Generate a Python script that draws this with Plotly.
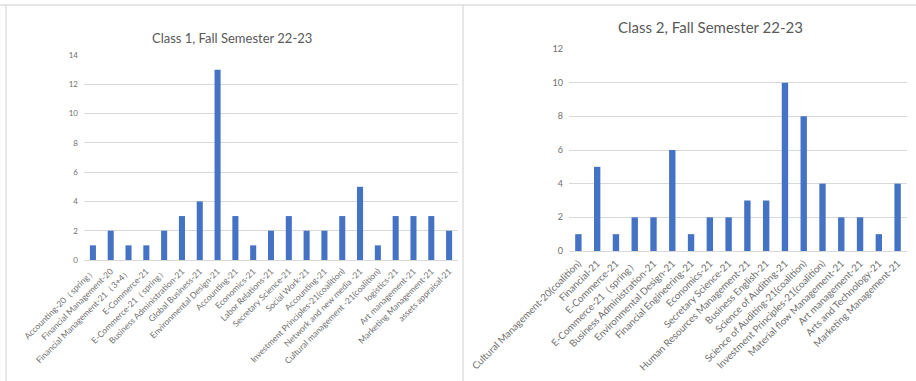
import plotly.graph_objects as go

# Class 1 enrolment counts by major
class1_majors = [
    "Accounting-20（spring）", "Financial Management-20", "Financial Management-21（3+4）",
    "E-Commerce-21", "E-Commerce-21（spring）", "Business Administration-21",
    "Global Business-21", "Environmental Design-21", "Accounting-21", "Economics-21",
    "Labor Relations-21", "Secretary Science-21", "Social Work-21", "Accounting-21",
    "Investment Principles-21(coalition)", "Network and new media -21",
    "Cultural management -21(coalition)", "logistics-21", "Art management-21",
    "Marketing Management-21", "assets appraisal-21",
]
class1_counts = [1, 2, 1, 1, 2, 3, 4, 13, 3, 1, 2, 3, 2, 2, 3, 5, 1, 3, 3, 3, 2]

# Class 2 enrolment counts by major
class2_majors = [
    "Cultural Management-20(coalition)", "Financial-21", "E-Commerce-21",
    "E-Commerce-21（spring）", "Business Administration-21", "Environmental Design-21",
    "Financial Engineering-21", "Economics-21", "Secretary Science-21",
    "Human Resources Management-21", "Business English-21", "Science of Auditing-21",
    "Science of Auditing-21(coalition)", "Investment Principles-21(coalition)",
    "Material flow Management-21", "Art management-21", "Arts and Technology-21",
    "Marketing Management-21",
]
class2_counts = [1, 5, 1, 2, 2, 6, 1, 2, 2, 3, 3, 10, 8, 4, 2, 2, 1, 4]

titles = ["Class 1, Fall Semester 22-23", "Class 2, Fall Semester 22-23"]

W, H = 916, 381
BAR = "#4472C4"
GRID = "#d9d9d9"
TXT = "#595959"
TICK = "#6f6f6f"
FONT = "Lato"

def px_x(v):
    return v / W

def px_y(v):
    return 1 - v / H

fig = go.Figure()

idx1 = list(range(len(class1_majors)))
idx2 = list(range(len(class2_majors)))

fig.add_trace(go.Bar(x=idx1, y=class1_counts, marker=dict(color=BAR, line=dict(width=0)),
                     xaxis="x", yaxis="y", showlegend=False))
fig.add_trace(go.Bar(x=idx2, y=class2_counts, marker=dict(color=BAR, line=dict(width=0)),
                     xaxis="x2", yaxis="y2", showlegend=False))

common_x = dict(type="linear", showgrid=False, zeroline=False, showline=True,
                linecolor=GRID, linewidth=1, ticks="", tickangle=-45,
                ticklabelstandoff=2, automargin=False, fixedrange=True)
common_y = dict(showgrid=True, gridcolor=GRID, gridwidth=1, zeroline=False,
                showline=False, ticks="", dtick=2, ticklabelstandoff=5,
                automargin=False, fixedrange=True)

fig.update_layout(
    width=W, height=H,
    margin=dict(l=0, r=0, t=0, b=0),
    paper_bgcolor="white", plot_bgcolor="white",
    font=dict(family=FONT, color=TXT),
    bargap=0.66,
    xaxis=dict(**common_x, domain=[px_x(84), px_x(458)],
               range=[-0.5, len(class1_majors) - 0.5],
               tickvals=idx1, ticktext=class1_majors,
               tickfont=dict(size=8.5, color=TICK), anchor="y"),
    yaxis=dict(**common_y, domain=[px_y(260), px_y(55)], range=[0, 14],
               tickfont=dict(size=8, color=TICK), anchor="x"),
    xaxis2=dict(**common_x, domain=[px_x(569), px_x(907)],
                range=[-0.5, len(class2_majors) - 0.5],
                tickvals=idx2, ticktext=class2_majors,
                tickfont=dict(size=9.8, color=TICK), anchor="y2"),
    yaxis2=dict(**common_y, domain=[px_y(251), px_y(49)], range=[0, 12],
                tickfont=dict(size=9, color=TICK), anchor="x2"),
)

fig.add_annotation(text=titles[0], xref="paper", yref="paper", x=px_x(232), y=px_y(38),
                   xanchor="center", yanchor="middle", showarrow=False,
                   font=dict(size=13, color=TXT, family=FONT))
fig.add_annotation(text=titles[1], xref="paper", yref="paper", x=px_x(710), y=px_y(27),
                   xanchor="center", yanchor="middle", showarrow=False,
                   font=dict(size=15, color=TXT, family=FONT))

# panel frames
frame = dict(type="line", xref="paper", yref="paper", line=dict(color="#d0d0d0", width=1))
fig.add_shape(**frame, x0=0, x1=1, y0=px_y(5), y1=px_y(5))
fig.add_shape(**frame, x0=px_x(6), x1=px_x(6), y0=px_y(5), y1=0)
fig.add_shape(**frame, x0=px_x(463), x1=px_x(463), y0=px_y(5), y1=0)

fig.write_html("out.html")
